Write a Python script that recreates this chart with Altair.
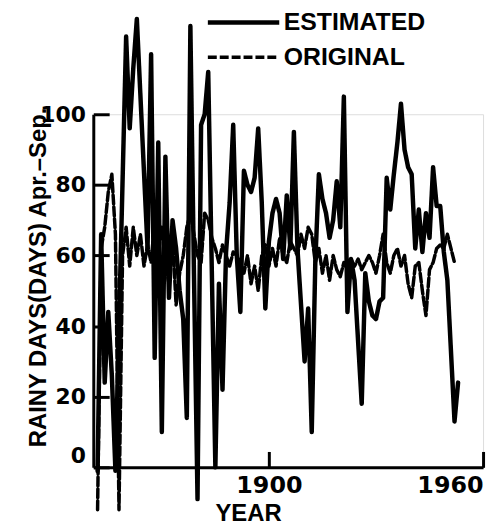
import altair as alt
import pandas as pd

# ---- data ----
est_years = [1852, 1853, 1854, 1855, 1856, 1857, 1860, 1861, 1862, 1863,
             1866, 1867, 1868, 1869, 1870, 1871, 1872, 1873, 1874, 1875,
             1876, 1877, 1878, 1879, 1880, 1881, 1882, 1883, 1885, 1886,
             1887, 1888, 1889, 1890, 1891, 1892, 1893, 1894, 1895, 1896,
             1897, 1898, 1899, 1900, 1901, 1902, 1903, 1904, 1905, 1906,
             1907, 1908, 1910, 1911, 1912, 1913, 1914, 1915, 1916, 1917,
             1918, 1919, 1920, 1921, 1922, 1923, 1924, 1926, 1927, 1928,
             1929, 1930, 1931, 1932, 1933, 1934, 1935, 1936, 1937, 1938,
             1939, 1940, 1941, 1942, 1943, 1944, 1945, 1946, 1947, 1948,
             1949, 1950, 1952, 1953]
est_vals = [-1, 66, 24, 44, 26, -1, 122, 96, 113, 127,
            62, 117, 31, 92, 10, 88, 48, 70, 62, 50,
            42, 14, 125, 55, -9, 97, 100, 112, 0, 52,
            22, 61, 75, 97, 60, 44, 84, 80, 78, 82,
            96, 75, 45, 64, 72, 76, 72, 59, 77, 62,
            95, 62, 30, 45, 10, 58, 83, 76, 72, 65,
            70, 81, 68, 105, 44, 59, 53, 18, 55, 47,
            43, 42, 47, 48, 82, 73, 83, 92, 103, 90,
            85, 83, 62, 73, 61, 72, 65, 85, 74, 74,
            61, 53, 13, 24]

orig_years = list(range(1852, 1953))
orig_vals = [-12, 62, 68, 78, 83, 66, -12, 60, 68, 57,
             68, 60, 66, 57, 63, 58, 70, 62, 68, 58,
             52, 65, 46, 55, 60, 68, 72, 66, 60, 58,
             72, 70, 65, 62, 58, 63, 60, 57, 61, 60,
             58, 55, 60, 52, 57, 50, 60, 63, 57, 62,
             57, 65, 60, 58, 64, 62, 60, 66, 62, 68,
             66, 58, 62, 55, 60, 53, 60, 56, 54, 58,
             56, 59, 57, 59, 56, 58, 60, 58, 55, 60,
             66, 58, 55, 60, 62, 57, 60, 52, 48, 57,
             58, 50, 43, 56, 58, 62, 63, 62, 66, 62,
             58]

series_names = ["ESTIMATED", "ORIGINAL"]
x_ticks = [1900, 1960]
y_ticks = [0, 20, 40, 60, 80, 100]
x_title = "YEAR"
y_title = "RAINY DAYS(DAYS) Apr.\u2013Sep."

df = pd.concat([
    pd.DataFrame({"year": est_years, "days": est_vals, "series": series_names[0]}),
    pd.DataFrame({"year": orig_years, "days": orig_vals, "series": series_names[1]}),
], ignore_index=True)

BOLD_SANS = "Liberation Sans"
DIGITS = "DejaVu Sans"

chart = alt.Chart(df).mark_line(
    color="black", clip=False, strokeJoin="round", strokeCap="round"
).encode(
    x=alt.X(
        "year:Q",
        scale=alt.Scale(domain=[1850.8, 1960], nice=False, zero=False),
        axis=alt.Axis(
            values=x_ticks, format="d", grid=False,
            title=x_title, titleFont=BOLD_SANS, titleFontSize=24,
            titleFontWeight="bold", titleColor="black",
            titleX=156, titleY=54, titleBaseline="alphabetic", titleAlign="center",
            labelFont=DIGITS, labelFontSize=24, labelFontWeight="bold",
            labelColor="black", labelFlush=True, labelPadding=22,
            tickSize=alt.ExprRef(expr="-16"), tickWidth=3, tickColor="black",
            domainColor="black", domainWidth=3,
        ),
    ),
    y=alt.Y(
        "days:Q",
        scale=alt.Scale(domain=[0, 100], nice=False, zero=False),
        axis=alt.Axis(
            values=y_ticks, grid=False,
            title=y_title, titleFont=BOLD_SANS, titleFontSize=24,
            titleFontWeight="bold", titleColor="black",
            titleX=-48, titleY=164, titleAngle=-90,
            titleBaseline="alphabetic", titleAlign="center",
            labelFont=DIGITS, labelFontSize=22, labelFontWeight="bold",
            labelColor="black", labelFlush=False, labelPadding=24,
            labelBaseline=alt.ExprRef(expr="datum.value == 0 ? 'bottom' : 'middle'"),
            tickSize=alt.ExprRef(expr="-16"), tickWidth=3, tickColor="black",
            domainColor="black", domainWidth=3,
        ),
    ),
    strokeDash=alt.StrokeDash(
        "series:N",
        scale=alt.Scale(domain=series_names, range=[[1, 0], [9, 3]]),
        legend=alt.Legend(
            title=None, orient="none", legendX=113, legendY=-110,
            direction="vertical", symbolType="stroke", symbolSize=5184,
            symbolStrokeWidth=4, symbolStrokeColor="black",
            clipHeight=35, rowPadding=0, padding=0,
            labelFont=BOLD_SANS, labelFontSize=25, labelFontWeight="bold",
            labelColor="black", labelOffset=2, labelLimit=0,
        ),
    ),
    strokeWidth=alt.StrokeWidth(
        "series:N",
        scale=alt.Scale(domain=series_names, range=[4.5, 3.5]),
        legend=None,
    ),
).properties(
    width=393,
    height=356,
    autosize=alt.AutoSizeParams(type="none"),
    padding={"left": 86, "top": 105, "right": 8, "bottom": 56},
).configure_view(stroke=None).configure(background="white")

chart.save("out.html", embed_options={"renderer": "svg", "actions": False})
